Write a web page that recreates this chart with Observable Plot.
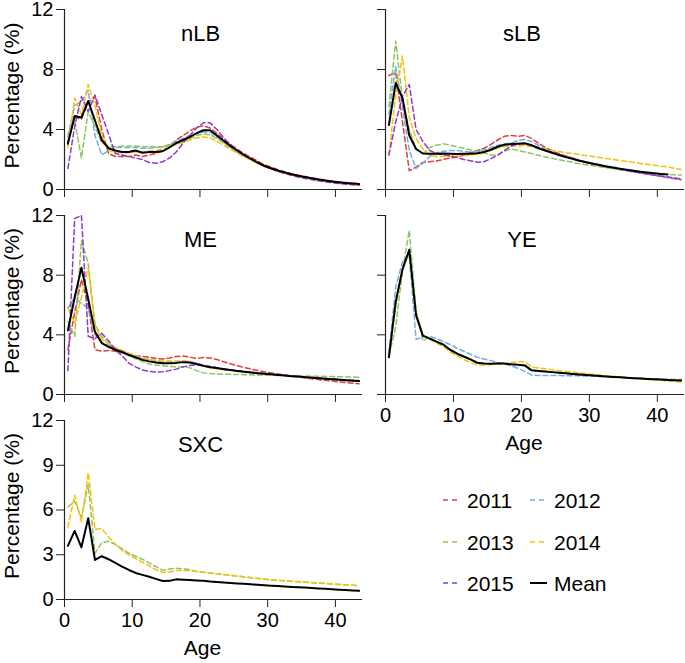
<!DOCTYPE html>
<html>
<head>
<meta charset="utf-8">
<script src="https://cdn.jsdelivr.net/npm/d3@7"></script>
<script src="https://cdn.jsdelivr.net/npm/@observablehq/plot@0.6"></script>
<style>
  body { margin: 0; background: white; }
  #chart { position: relative; width: 685px; height: 663px; font-family: "Liberation Sans", Arial, sans-serif; }
  #chart > svg, #chart > figure { position: absolute; margin: 0; }
</style>
</head>
<body>
<div id="chart"></div>
<script>
const ages = [0.5,1.5,2.5,3.5,4.5,5.5,6.5,7.5,8.5,9.5,10.5,11.5,12.5,13.5,14.5,15.5,16.5,17.5,18.5,19.5,20.5,21.5,22.5,23.5,24.5,25.5,26.5,27.5,28.5,29.5,30.5,31.5,32.5,33.5,34.5,35.5,36.5,37.5,38.5,39.5,40.5,41.5,42.5,43.5];
const xTicks = [0,10,20,30,40];
const yTicks4 = [0,4,8,12];
const yTicks3 = [0,3,6,9,12];
const years = ["2011","2012","2013","2014","2015"];
const yearColors = ["#e0403c","#74aee0","#8cc563","#f4c20d","#8b3dc6"];

// nLB
const nLB_2011 = [3.2,4.8,4.7,5.8,6.2,4.0,2.4,2.2,2.2,2.2, 2.3,2.2,2.3,2.4,2.6,2.9,3.3,3.6,3.9,4.15, 4.25,4.1,3.75,3.35,3.0,2.7,2.4,2.15,1.9,1.65, 1.48,1.32,1.18,1.06,0.95,0.86,0.77,0.7,0.63,0.57, 0.51,0.46,0.42,0.38];
const nLB_2012 = [3.5,5.6,5.9,6.6,3.6,2.3,2.6,2.8,2.8,2.8, 2.8,2.75,2.75,2.8,2.85,3.0,3.2,3.4,3.6,3.75, 3.85,3.8,3.5,3.15,2.8,2.5,2.25,2.0,1.75,1.55, 1.4,1.25,1.12,1.0,0.9,0.8,0.72,0.65,0.58,0.52, 0.47,0.42,0.38,0.34];
const nLB_2013 = [3.7,4.6,2.1,5.2,4.2,3.1,2.9,2.85,2.9,2.9, 2.9,2.85,2.85,2.85,2.85,2.95,3.05,3.2,3.4,3.6, 3.7,3.65,3.4,3.1,2.8,2.5,2.25,2.0,1.78,1.57, 1.4,1.25,1.12,1.0,0.9,0.81,0.73,0.66,0.59,0.53, 0.48,0.43,0.39,0.35];
const nLB_2014 = [2.8,6.1,5.0,7.0,5.6,3.6,2.6,2.5,2.45,2.45, 2.5,2.5,2.55,2.6,2.7,2.85,3.0,3.15,3.3,3.45, 3.5,3.45,3.2,2.95,2.7,2.42,2.18,1.95,1.75,1.55, 1.38,1.23,1.1,0.98,0.88,0.79,0.71,0.64,0.57,0.51, 0.45,0.4,0.35,0.3];
const nLB_2015 = [1.4,4.2,6.2,5.2,6.3,5.0,3.7,2.4,2.3,2.2, 2.1,2.0,1.8,1.75,1.85,2.1,2.5,3.1,3.6,4.1, 4.45,4.45,4.0,3.45,3.0,2.62,2.3,2.02,1.77,1.55, 1.37,1.21,1.07,0.95,0.84,0.74,0.66,0.58,0.51,0.45, 0.4,0.35,0.31,0.28];
const nLB_mean = [3.05,4.9,4.8,5.9,4.6,3.3,2.75,2.6,2.5,2.5, 2.6,2.45,2.5,2.5,2.55,2.8,3.1,3.3,3.5,3.75, 3.95,3.95,3.6,3.25,2.9,2.6,2.3,2.05,1.8,1.58, 1.42,1.27,1.14,1.02,0.92,0.83,0.75,0.67,0.6,0.54, 0.49,0.44,0.4,0.36];

// sLB
const sLB_2011 = [7.6,7.8,4.5,1.25,1.5,1.8,1.85,1.9,2.0,2.1, 2.15,2.3,2.45,2.6,2.75,3.0,3.3,3.55,3.6,3.55, 3.6,3.4,3.1,2.8,2.58,2.4,2.24,2.1,1.96,1.84, 1.72,1.62,1.52,1.43,1.35,1.27,1.19,1.11,1.03,0.95, 0.87,0.8,0.72,0.65];
const sLB_2012 = [5.0,8.2,5.5,2.6,1.4,1.75,2.2,2.45,2.55,2.6, 2.6,2.55,2.5,2.55,2.65,2.8,2.95,3.05,3.1,3.25, 3.35,3.2,2.95,2.7,2.5,2.34,2.2,2.06,1.94,1.82, 1.71,1.61,1.51,1.42,1.33,1.25,1.17,1.1,1.03,0.96, 0.89,0.82,0.76,0.7];
const sLB_2013 = [5.5,9.9,6.0,4.0,2.7,2.4,2.8,2.95,3.05,2.95, 2.85,2.75,2.65,2.55,2.45,2.3,2.3,2.55,2.7,2.6, 2.5,2.4,2.28,2.17,2.08,1.99,1.9,1.81,1.72,1.65, 1.58,1.51,1.45,1.39,1.33,1.28,1.23,1.18,1.14,1.1, 1.06,1.02,0.99,0.96];
const sLB_2014 = [2.3,6.3,8.9,4.8,3.4,2.7,2.3,2.2,2.2,2.2, 2.22,2.25,2.3,2.35,2.45,2.6,2.75,2.85,2.9,2.9, 2.95,2.85,2.75,2.67,2.6,2.53,2.46,2.4,2.33,2.26, 2.2,2.13,2.06,2.0,1.93,1.87,1.8,1.74,1.68,1.62, 1.56,1.5,1.42,1.33];
const sLB_2015 = [2.3,4.5,6.2,7.0,4.0,3.2,2.6,2.4,2.3,2.25, 2.15,2.0,1.92,1.82,1.85,2.05,2.3,2.6,2.9,3.05, 3.05,2.95,2.8,2.62,2.46,2.32,2.19,2.07,1.95,1.84, 1.73,1.63,1.53,1.44,1.35,1.27,1.19,1.11,1.04,0.97, 0.9,0.83,0.77,0.71];
const sLB_mean = [4.3,7.1,6.1,3.6,2.7,2.4,2.38,2.38,2.4,2.38, 2.36,2.38,2.38,2.42,2.5,2.65,2.85,2.98,3.03,3.05, 3.08,2.95,2.75,2.6,2.45,2.3,2.17,2.05,1.92,1.82, 1.72,1.63,1.54,1.46,1.38,1.31,1.25,1.19,1.14,1.09, 1.04,1.0,null,null];

// ME
const ME_2011 = [3.0,5.5,7.7,6.0,3.0,2.9,2.95,2.9,2.8,2.7, 2.6,2.55,2.5,2.42,2.38,2.45,2.55,2.58,2.5,2.42, 2.48,2.45,2.35,2.2,2.06,1.93,1.82,1.71,1.61,1.52, 1.45,1.38,1.31,1.24,1.18,1.12,1.06,1.0,0.95,0.9, 0.85,0.8,0.76,0.72];
const ME_2012 = [5.8,6.5,6.1,5.8,4.0,3.5,3.3,3.1,2.95,2.75, 2.6,2.45,2.35,2.25,2.2,2.2,2.2,2.25,2.2,2.1, 1.97,1.87,1.8,1.73,1.66,1.6,1.55,1.5,1.45,1.41, 1.37,1.33,1.29,1.25,1.22,1.18,1.15,1.11,1.08,1.05, 1.02,0.99,0.96,0.93];
const ME_2013 = [4.9,3.9,10.3,8.8,4.7,3.9,3.4,3.1,2.85,2.6, 2.4,2.2,2.05,1.97,1.92,1.88,1.86,1.85,1.8,1.6, 1.45,1.4,1.38,1.36,1.35,1.34,1.33,1.32,1.31,1.3, 1.29,1.28,1.27,1.26,1.25,1.24,1.23,1.22,1.21,1.2, 1.19,1.18,1.17,1.16];
const ME_2014 = [5.8,4.8,6.5,8.5,4.6,3.7,3.4,3.15,2.95,2.75, 2.6,2.45,2.35,2.3,2.25,2.25,2.25,2.25,2.2,2.05, 1.9,1.8,1.73,1.67,1.62,1.57,1.52,1.47,1.43,1.39, 1.35,1.31,1.27,1.23,1.2,1.16,1.13,1.09,1.06,1.03, 1.0,0.97,0.94,0.91];
const ME_2015 = [1.6,11.8,12.0,3.9,3.75,4.1,3.6,3.0,2.6,2.1, 1.85,1.65,1.55,1.5,1.52,1.6,1.7,1.85,1.95,2.0, 1.95,1.88,1.8,1.72,1.65,1.59,1.54,1.49,1.44,1.4, 1.36,1.32,1.28,1.24,1.21,1.17,1.14,1.1,1.07,1.04, 1.01,0.98,0.95,0.92];
const ME_mean = [4.3,6.5,8.5,6.4,4.2,3.45,3.2,3.0,2.85,2.65, 2.5,2.32,2.22,2.15,2.1,2.1,2.12,2.17,2.15,2.05, 1.92,1.83,1.77,1.7,1.64,1.58,1.53,1.48,1.43,1.39, 1.35,1.31,1.27,1.23,1.2,1.16,1.13,1.09,1.06,1.02, 0.99,0.96,0.93,0.9];

// YE
const YE_2012 = [2.8,7.2,8.9,9.3,3.7,3.85,3.9,3.75,3.55,3.35, 3.1,2.9,2.7,2.5,2.38,2.27,2.15,2.05,1.92,1.75, 1.55,1.3,1.28,1.28,1.27,1.27,1.26,1.26,1.25,1.24, 1.23,1.21,1.19,1.17,1.15,1.13,1.11,1.09,1.07,1.05, 1.04,1.02,1.01,1.0];
const YE_2013 = [2.6,4.5,8.3,11.0,5.6,3.6,3.85,3.55,3.35,3.0, 2.75,2.55,2.35,2.13,2.07,2.05,2.06,2.06,2.02,2.0, 1.95,1.63,1.59,1.55,1.51,1.47,1.43,1.39,1.35,1.31, 1.28,1.25,1.22,1.19,1.16,1.13,1.1,1.08,1.05,1.03, 1.01,0.99,0.97,0.95];
const YE_2014 = [2.6,6.0,8.3,9.6,5.5,4.0,3.7,3.45,3.2,2.85, 2.6,2.35,2.15,1.98,1.98,2.0,2.05,2.1,2.15,2.2, 2.2,1.85,1.78,1.72,1.66,1.6,1.55,1.5,1.45,1.4, 1.35,1.3,1.26,1.22,1.18,1.14,1.1,1.06,1.02,0.98, 0.95,0.91,0.87,0.84];
const YE_mean = [2.5,6.2,8.4,9.7,5.3,3.95,3.75,3.55,3.35,3.0, 2.75,2.55,2.35,2.13,2.08,2.06,2.07,2.07,2.02,2.0, 1.95,1.62,1.58,1.54,1.5,1.46,1.42,1.38,1.34,1.3, 1.27,1.24,1.21,1.18,1.15,1.12,1.09,1.07,1.04,1.02, 1.0,0.98,0.96,0.94];

// SXC
const SXC_2013 = [6.2,6.6,5.5,7.7,3.1,3.8,3.9,3.7,3.4,3.1, 2.9,2.7,2.45,2.2,1.95,2.05,2.1,2.05,2.0,1.88, 1.83,1.78,1.73,1.68,1.62,1.57,1.52,1.46,1.41,1.36, 1.31,1.28,1.25,1.22,1.19,1.16,1.13,1.1,1.07,1.04, 1.01,0.98,0.95,0.92];
const SXC_2014 = [4.85,7.0,5.2,8.5,4.7,4.75,4.2,3.7,3.3,3.0, 2.75,2.5,2.25,2.0,1.8,1.85,1.95,1.95,1.93,1.88, 1.82,1.77,1.72,1.67,1.62,1.57,1.52,1.47,1.42,1.37, 1.32,1.29,1.26,1.23,1.2,1.17,1.14,1.11,1.08,1.05, 1.02,0.99,0.96,0.93];
const SXC_mean = [3.6,4.6,3.5,5.45,2.65,2.9,2.7,2.45,2.2,1.98, 1.78,1.65,1.52,1.38,1.24,1.25,1.35,1.33,1.3,1.28, 1.25,1.2,1.17,1.14,1.11,1.08,1.05,1.02,0.99,0.96, 0.93,0.9,0.87,0.84,0.82,0.8,0.77,0.74,0.72,0.69, 0.66,0.63,0.61,0.58];

const colorOf = y => yearColors[years.indexOf(y)];
const rows = vals => ages.map((a, i) => ({age: a, v: vals[i]}));

const FONT = "'Liberation Sans', Arial, Helvetica, sans-serif";
const chart = document.getElementById("chart");

function panel({name, series, mean, yTicks, col, row}) {
  const left = col === 0 ? 0 : 340;
  const width = col === 0 ? 365 : 345;
  const mL = col === 0 ? 64 : 45;
  const mR = col === 0 ? 3 : 1;
  const top = [0, 200, 405][row];
  const mT = [9, 15, 15][row];
  const innerH = [180, 179, 179][row];
  const bottomPanel = (row === 2) || (row === 1 && col === 1);
  const mB = bottomPanel ? 64 : 16;
  const height = mT + innerH + mB;

  const marks = [
    Plot.ruleX([0], {stroke: "#222", strokeWidth: 1.2}),
    Plot.ruleY([0], {stroke: "#222", strokeWidth: 1.2}),
    Plot.axisY({ticks: yTicks, tickSize: 8, tickPadding: 3, label: null, stroke: "#222", fontSize: 20,
      tickFormat: col === 0 ? (d => String(d)) : (() => "")}),
    Plot.axisX({ticks: xTicks, tickSize: 8, tickPadding: 5, label: null, stroke: "#222", fontSize: 20,
      tickFormat: bottomPanel ? (d => String(d)) : (() => "")})
  ];
  for (const [yr, vals] of series) {
    marks.push(Plot.line(rows(vals), {x: "age", y: "v", stroke: colorOf(yr), strokeWidth: 1.5, strokeDasharray: "5,3"}));
  }
  marks.push(Plot.line(rows(mean), {x: "age", y: "v", stroke: "black", strokeWidth: 2}));
  marks.push(Plot.text([name], {text: d => d, frameAnchor: "top", dx: -13, dy: 24, fontSize: 22, lineAnchor: "middle", fill: "black"}));
  if (col === 0) {
    marks.push(Plot.text(["Percentage (%)"], {text: d => d, frameAnchor: "left", dx: -52, dy: -4, rotate: -90, fontSize: 21, lineAnchor: "middle", textAnchor: "middle", fill: "black"}));
  }
  if (bottomPanel) {
    marks.push(Plot.text(["Age"], {text: d => d, frameAnchor: "bottom", dx: -11, dy: 49, fontSize: 21, lineAnchor: "middle", fill: "black"}));
  }

  const svg = Plot.plot({
    width, height,
    marginLeft: mL, marginRight: mR, marginTop: mT, marginBottom: mB,
    x: {domain: [0, 44]},
    y: {domain: [0, 12]},
    style: {fontFamily: FONT, fontSize: "21px", background: "transparent", overflow: "visible", color: "black"},
    marks
  });
  svg.style.position = "absolute";
  svg.style.left = left + "px";
  svg.style.top = top + "px";
  svg.style.maxWidth = "none";
  chart.appendChild(svg);
}

panel({name: "nLB", series: [["2011", nLB_2011], ["2012", nLB_2012], ["2013", nLB_2013], ["2014", nLB_2014], ["2015", nLB_2015]], mean: nLB_mean, yTicks: yTicks4, col: 0, row: 0});
panel({name: "sLB", series: [["2011", sLB_2011], ["2012", sLB_2012], ["2013", sLB_2013], ["2014", sLB_2014], ["2015", sLB_2015]], mean: sLB_mean, yTicks: yTicks4, col: 1, row: 0});
panel({name: "ME", series: [["2011", ME_2011], ["2012", ME_2012], ["2013", ME_2013], ["2014", ME_2014], ["2015", ME_2015]], mean: ME_mean, yTicks: yTicks4, col: 0, row: 1});
panel({name: "YE", series: [["2012", YE_2012], ["2013", YE_2013], ["2014", YE_2014]], mean: YE_mean, yTicks: yTicks4, col: 1, row: 1});
panel({name: "SXC", series: [["2013", SXC_2013], ["2014", SXC_2014]], mean: SXC_mean, yTicks: yTicks3, col: 0, row: 2});

// Legend
const legendItems = [...years, "Mean"];
const ns = "http://www.w3.org/2000/svg";
const leg = document.createElementNS(ns, "svg");
leg.setAttribute("width", 260);
leg.setAttribute("height", 140);
leg.style.position = "absolute";
leg.style.left = "400px";
leg.style.top = "470px";
leg.style.fontFamily = FONT;
leg.style.fontSize = "21px";
legendItems.forEach((name, i) => {
  const c = i % 2, r = Math.floor(i / 2);
  const x0 = c === 0 ? 43 : 130;
  const yc = [30, 72, 113][r];
  const ln = document.createElementNS(ns, "line");
  ln.setAttribute("x1", x0);
  ln.setAttribute("x2", name === "Mean" ? x0 + 17 : x0 + 15);
  ln.setAttribute("y1", yc);
  ln.setAttribute("y2", yc);
  ln.setAttribute("stroke", name === "Mean" ? "black" : colorOf(name));
  ln.setAttribute("stroke-width", name === "Mean" ? 2 : 1.5);
  if (name !== "Mean") ln.setAttribute("stroke-dasharray", "5,4");
  leg.appendChild(ln);
  const t = document.createElementNS(ns, "text");
  t.setAttribute("x", c === 0 ? 67 : 154);
  t.setAttribute("y", yc + 7.5);
  t.textContent = name;
  leg.appendChild(t);
});
chart.appendChild(leg);
</script>
</body>
</html>
